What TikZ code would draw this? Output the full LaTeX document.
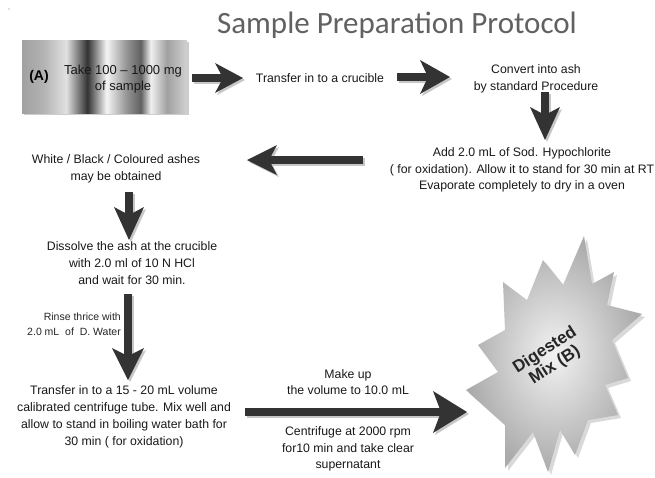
\documentclass[tikz,border=0pt]{standalone}
\usepackage{fontspec}
\setmainfont{Liberation Sans}
\newfontfamily\titlefont{Carlito}
\usetikzlibrary{arrows.meta,shadings}
\pgfdeclarehorizontalshading{boxshade}{100bp}{%
color(0bp)=(black!37);color(25bp)=(black!37);color(31.4bp)=(black!30);
color(38.4bp)=(black!12);color(44.8bp)=(black!80);color(50.6bp)=(black!4);
color(56.7bp)=(black!42);color(61bp)=(black!62);color(64bp)=(black!6);
color(68.9bp)=(black!37);color(75bp)=(black!18);color(100bp)=(black!18)}
\tikzset{
  txt/.style={font=\fontsize{12.3}{16.8}\selectfont, align=center, inner sep=0pt, text=black!90},
  small/.style={font=\fontsize{10.5}{15}\selectfont, align=right, inner sep=0pt, text=black!85},
  barr/.style={line width=8pt, draw=black!80},
  barrsh/.style={line width=8pt, draw=black!22},
}
\newcommand\bigarr[4]{% from, to, head length, head width
  \draw[barrsh,-{Stealth[length=#3pt,width=#4pt,inset=8pt,line width=0pt]}]
     ([shift={(2,2)}]#1) -- ([shift={(2,2)}]#2);
  \draw[barr,-{Stealth[length=#3pt,width=#4pt,inset=8pt,line width=0pt]}] (#1) -- (#2);}
\begin{document}
\begin{tikzpicture}[x=1pt,y=-1pt]
\useasboundingbox (0,0) rectangle (655,477);
\fill[white] (0,0) rectangle (655,477);
\fill[black!50] (9,9) circle (0.6);
% title
\node[font=\titlefont\fontsize{31}{33}\selectfont, text=black!62] (title) at (397,25) {Sample Preparation Protocol};
% box A
\fill[black!20] (24,42) rectangle (189,115);
\shade[shading=boxshade] (22,40) rectangle (187,113);
\node[font=\bfseries\fontsize{14}{16}\selectfont, inner sep=0pt] (A) at (39,77) {(A)};
\node[font=\fontsize{13}{16}\selectfont, align=center, inner sep=0pt, text=black!90] (take) at (123,79) {Take 100 -- 1000 mg\\of sample};
% texts
\node[txt] (crucible) at (320,78) {Transfer in to a crucible};
\node[txt] (ash) at (536,79) {Convert into ash\\by standard Procedure};
\node[txt] (hypo) at (522,170) {Add 2.0 mL of Sod. Hypochlorite\\( for oxidation). Allow it to stand for 30 min at RT\\Evaporate completely to dry in a oven};
\node[txt] (white) at (116,169) {White / Black / Coloured ashes\\may be obtained};
\node[txt] (dissolve) at (132,263) {Dissolve the ash at the crucible\\with 2.0 ml of 10 N HCl\\and wait for 30 min.};
\node[small, anchor=east] (rinse) at (121,324) {Rinse thrice with\\2.0 mL\ \ of\ \ D. Water};
\node[txt] (tube) at (124,417) {Transfer in to a 15 - 20 mL volume\\calibrated centrifuge tube. Mix well and\\allow to stand in boiling water bath for\\30 min ( for oxidation)};
\node[txt] (makeup) at (348,382) {Make up\\the volume to 10.0 mL};
\node[txt] (centri) at (348,449) {Centrifuge at 2000 rpm\\for10 min and take clear\\supernatant};
% starburst
\fill[black!15]
  (587,239) -- (595,287) -- (617,275) -- (610,308) -- (645,317) -- (615,343) -- (631,381) -- (608,388) -- (621,418) -- (591,423) -- (578,458) -- (563,433) -- (551,475) -- (536,435) -- (508,471) -- (508,428) -- (469,393) -- (501,375) -- (481,348) -- (508,333) -- (506,285) -- (530,303) -- (546,263) -- (566,288) -- cycle;
\shade[inner color=black!5, outer color=black!33]
  (584,236) -- (592,284) -- (614,272) -- (607,305) -- (642,314) -- (612,340) -- (628,378) -- (605,385) -- (618,415) -- (588,420) -- (575,455) -- (560,430) -- (548,472) -- (533,432) -- (505,468) -- (505,425) -- (466,390) -- (498,372) -- (478,345) -- (505,330) -- (503,282) -- (527,300) -- (543,260) -- (563,285) -- cycle;
\node[rotate=33, align=center, font=\bfseries\fontsize{17}{18}\selectfont, text=black!85, inner sep=0pt] (dig) at (550,358) {Digested\\Mix (B)};
% arrows
\coordinate (a1s) at (192,78); \coordinate (a1e) at (243,78);
\coordinate (a2s) at (397,77); \coordinate (a2e) at (450,77);
\coordinate (a3s) at (545,92); \coordinate (a3e) at (545,140);
\coordinate (a4s) at (363,160); \coordinate (a4e) at (247,160);
\coordinate (a5s) at (129,192); \coordinate (a5e) at (129,240);
\coordinate (a6s) at (128,294); \coordinate (a6e) at (128,380);
\coordinate (a7s) at (245,412); \coordinate (a7e) at (467,412);
\bigarr{a1s}{a1e}{28}{30}
\bigarr{a2s}{a2e}{30}{34}
\bigarr{a3s}{a3e}{33}{30}
\bigarr{a4s}{a4e}{30}{30}
\bigarr{a5s}{a5e}{33}{30}
\bigarr{a6s}{a6e}{32}{32}
\bigarr{a7s}{a7e}{34}{42}
\end{tikzpicture}
\end{document}
